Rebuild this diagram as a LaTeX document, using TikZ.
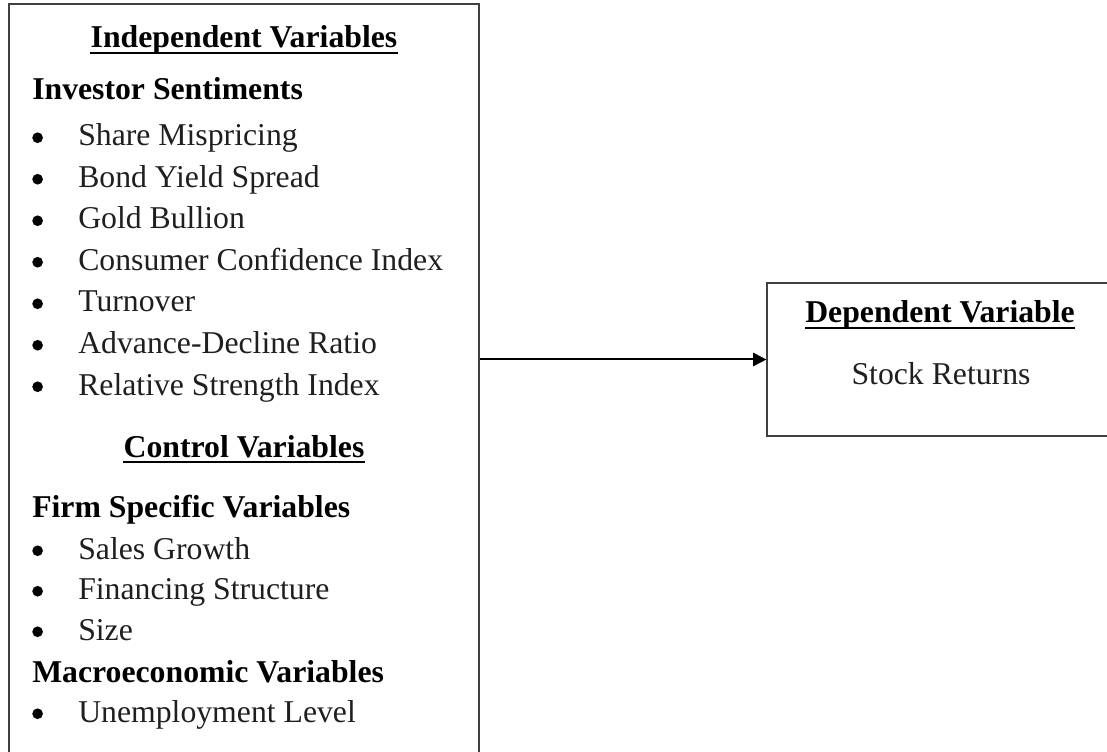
\documentclass[tikz,border=0pt]{standalone}
\usepackage{fontspec}
\setmainfont{Liberation Serif}
\usetikzlibrary{arrows.meta}
\tikzset{
  boxstyle/.style={draw=black!75, line width=0.9pt, fill=none, inner sep=0pt},
  ctitle/.style={font=\bfseries, anchor=base, inner sep=0pt},
  heading/.style={font=\bfseries, anchor=base west, inner sep=0pt},
  itemtext/.style={anchor=base west, inner sep=0pt, text=black!88},
  plaintext/.style={anchor=base, inner sep=0pt, text=black!88},
  ulstyle/.style={line width=1.3pt, black},
  arrowstyle/.style={line width=1.5pt, -{Triangle[length=10pt,width=10pt]}},
}
\newcommand{\bul}{\makebox[34.5pt][l]{\raisebox{2.2pt}{\tikz\fill[black] (0,0) circle (4pt);}}}
\begin{document}
\begin{tikzpicture}[x=0.75pt,y=-0.75pt]
\fontsize{23.8}{28}\selectfont
\clip (0,0) rectangle (1107,752);
% boxes
\node[boxstyle, minimum width=352.5pt, minimum height=597pt] (indep) at (244,402) {};
\node[boxstyle, minimum width=259.5pt, minimum height=114.75pt] (dep) at (940,359.5) {};
% left box text
\node[ctitle] (h1) at (244,48) {Independent Variables};
\draw[ulstyle] ([yshift=-3.75pt]h1.base west) -- ([yshift=-3.75pt]h1.base east);
\node[heading] (inv) at (32,100) {Investor Sentiments};
\node[itemtext] (a1) at (32,146) {\bul Share Mispricing};
\node[itemtext] (a2) at (32,187.5) {\bul Bond Yield Spread};
\node[itemtext] (a3) at (32,229) {\bul Gold Bullion};
\node[itemtext] (a4) at (32,270.5) {\bul Consumer Confidence Index};
\node[itemtext] (a5) at (32,312) {\bul Turnover};
\node[itemtext] (a6) at (32,353.5) {\bul Advance-Decline Ratio};
\node[itemtext] (a7) at (32,395) {\bul Relative Strength Index};
\node[ctitle] (h2) at (244,457) {Control Variables};
\draw[ulstyle] ([yshift=-3.75pt]h2.base west) -- ([yshift=-3.75pt]h2.base east);
\node[heading] (firm) at (32,517) {Firm Specific Variables};
\node[itemtext] (b1) at (32,559) {\bul Sales Growth};
\node[itemtext] (b2) at (32,599.5) {\bul Financing Structure};
\node[itemtext] (b3) at (32,640) {\bul Size};
\node[heading] (macro) at (32,682) {Macroeconomic Variables};
\node[itemtext] (c1) at (32,722) {\bul Unemployment Level};
% right box text
\node[ctitle] (h3) at (940,323) {Dependent Variable};
\draw[ulstyle] ([yshift=-3.75pt]h3.base west) -- ([yshift=-3.75pt]h3.base east);
\node[plaintext] (sr) at (941,384) {Stock Returns};
% connector
\draw[arrowstyle] (indep.east |- dep.west) -- (dep.west);
\end{tikzpicture}
\end{document}
